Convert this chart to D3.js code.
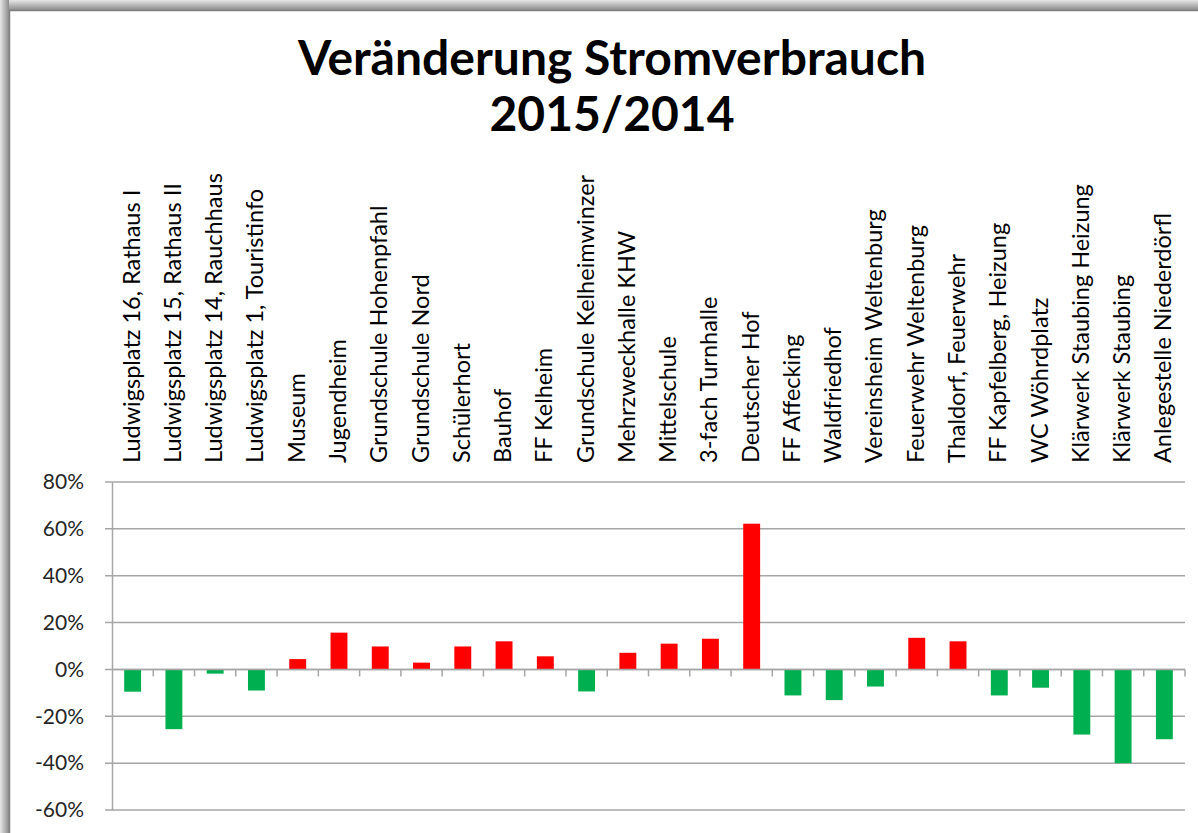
<!DOCTYPE html>
<html>
<head>
    <meta charset="utf-8">
    <title>Veränderung Stromverbrauch 2015/2014</title>
    <script src="https://d3js.org/d3.v7.min.js"></script>
    <style>
        body { margin: 0; background: #fff; }
        svg { display: block; }
        .tick text { font-family: Lato, "Open Sans", sans-serif; }
    </style>
</head>
<body>
<svg width="1198" height="833"></svg>
<script>
    // chart data
    var categories = [
        "Ludwigsplatz 16, Rathaus I", "Ludwigsplatz 15, Rathaus II", "Ludwigsplatz 14, Rauchhaus",
        "Ludwigsplatz 1, Touristinfo", "Museum", "Jugendheim", "Grundschule Hohenpfahl",
        "Grundschule Nord", "Schülerhort", "Bauhof", "FF Kelheim", "Grundschule Kelheimwinzer",
        "Mehrzweckhalle KHW", "Mittelschule", "3-fach Turnhalle", "Deutscher Hof", "FF Affecking",
        "Waldfriedhof", "Vereinsheim Weltenburg", "Feuerwehr Weltenburg", "Thaldorf, Feuerwehr",
        "FF Kapfelberg, Heizung", "WC Wöhrdplatz", "Klärwerk Staubing Heizung", "Klärwerk Staubing",
        "Anlegestelle Niederdörfl"
    ];
    var changes = [
        -0.095, -0.255, -0.018, -0.09, 0.044, 0.157, 0.098, 0.029, 0.098, 0.12, 0.056, -0.094,
        0.071, 0.11, 0.131, 0.622, -0.111, -0.131, -0.073, 0.135, 0.12, -0.111, -0.078,
        -0.278, -0.40, -0.298
    ];
    var yTicks = [-0.6, -0.4, -0.2, 0, 0.2, 0.4, 0.6, 0.8];
    var titleLines = ["Veränderung Stromverbrauch", "2015/2014"];

    var svg = d3.select("svg");

    // frame with a soft shadow like the pasted Excel chart
    var defs = svg.append("defs");
    var gTop = defs.append("linearGradient").attr("id", "shTop").attr("x1", 0).attr("y1", 0).attr("x2", 0).attr("y2", 1);
    gTop.append("stop").attr("offset", "0%").attr("stop-color", "#e6e6e6");
    gTop.append("stop").attr("offset", "100%").attr("stop-color", "#8c8c8c");
    var gLeft = defs.append("linearGradient").attr("id", "shLeft").attr("x1", 0).attr("y1", 0).attr("x2", 1).attr("y2", 0);
    gLeft.append("stop").attr("offset", "0%").attr("stop-color", "#e6e6e6");
    gLeft.append("stop").attr("offset", "100%").attr("stop-color", "#8c8c8c");

    svg.append("rect").attr("x", 0).attr("y", 0).attr("width", 1198).attr("height", 10).attr("fill", "url(#shTop)");
    svg.append("rect").attr("x", 0).attr("y", 0).attr("width", 9).attr("height", 833).attr("fill", "url(#shLeft)");
    svg.append("rect").attr("x", 9.5).attr("y", 10.5).attr("width", 1200).attr("height", 830)
        .attr("fill", "#fff").attr("stroke", "#7f7f7f").attr("stroke-width", 1.5);

    var margin = { left: 112, right: 13, top: 482, bottom: 23 };
    var width = 1198 - margin.left - margin.right;
    var height = 833 - margin.top - margin.bottom;

    var x = d3.scaleBand().domain(categories).range([0, width]).paddingInner(0.59).paddingOuter(0.295);
    var xTickScale = d3.scaleBand().domain(categories).range([0, width]);
    var y = d3.scaleLinear().domain([-0.6, 0.8]).range([height, 0]);

    var g = svg.append("g").attr("transform", "translate(" + margin.left + "," + margin.top + ")");

    // gridlines
    g.append("g")
        .selectAll("line")
        .data(yTicks)
        .enter().append("line")
        .attr("x1", -7).attr("x2", width)
        .attr("y1", function(d) { return y(d); })
        .attr("y2", function(d) { return y(d); })
        .attr("stroke", "#a6a6a6")
        .attr("stroke-width", 1.5);

    // y axis (plain hyphen for negatives, as in Excel)
    var pct = d3.format(".0%");
    var yAxis = g.append("g")
        .call(d3.axisLeft(y).tickValues(yTicks)
            .tickFormat(function(d) { return pct(d).replace("\u2212", "-"); })
            .tickSize(0).tickPadding(28));
    yAxis.select(".domain").attr("stroke", "#a6a6a6").attr("stroke-width", 1.5);
    yAxis.selectAll("text").attr("font-size", "21px").attr("fill", "#262626");

    // bars
    g.append("g")
        .selectAll("rect")
        .data(categories)
        .enter().append("rect")
        .attr("x", function(d) { return x(d); })
        .attr("width", x.bandwidth())
        .attr("y", function(d, i) { return y(Math.max(0, changes[i])); })
        .attr("height", function(d, i) { return Math.abs(y(changes[i]) - y(0)); })
        .attr("fill", function(d, i) { return changes[i] >= 0 ? "#ff0000" : "#00b050"; });

    // zero axis with tick marks between categories
    g.append("line")
        .attr("x1", 0).attr("x2", width)
        .attr("y1", y(0)).attr("y2", y(0))
        .attr("stroke", "#a6a6a6").attr("stroke-width", 1.5);
    var tickPos = categories.map(function(d) { return xTickScale(d); }).concat([width]);
    g.append("g")
        .selectAll("line")
        .data(tickPos.slice(1))
        .enter().append("line")
        .attr("x1", function(d) { return d; })
        .attr("x2", function(d) { return d; })
        .attr("y1", y(0)).attr("y2", y(0) + 7)
        .attr("stroke", "#a6a6a6").attr("stroke-width", 1.5);

    // category labels, rotated, above the plot
    g.append("g")
        .selectAll("text")
        .data(categories)
        .enter().append("text")
        .attr("transform", function(d) {
            return "translate(" + (xTickScale(d) + xTickScale.bandwidth() / 2 + 7) + "," + (-19) + ") rotate(-90)";
        })
        .attr("font-family", "Lato, sans-serif")
        .attr("font-size", "23.5px")
        .attr("fill", "#000")
        .text(function(d) { return d; });

    // title
    svg.append("g")
        .selectAll("text")
        .data(titleLines)
        .enter().append("text")
        .attr("x", 612)
        .attr("y", function(d, i) { return 75 + i * 56; })
        .attr("text-anchor", "middle")
        .attr("font-family", "Lato, sans-serif")
        .attr("font-weight", "bold")
        .attr("font-size", "48px")
        .attr("fill", "#000")
        .text(function(d) { return d; });
</script>
</body>
</html>
